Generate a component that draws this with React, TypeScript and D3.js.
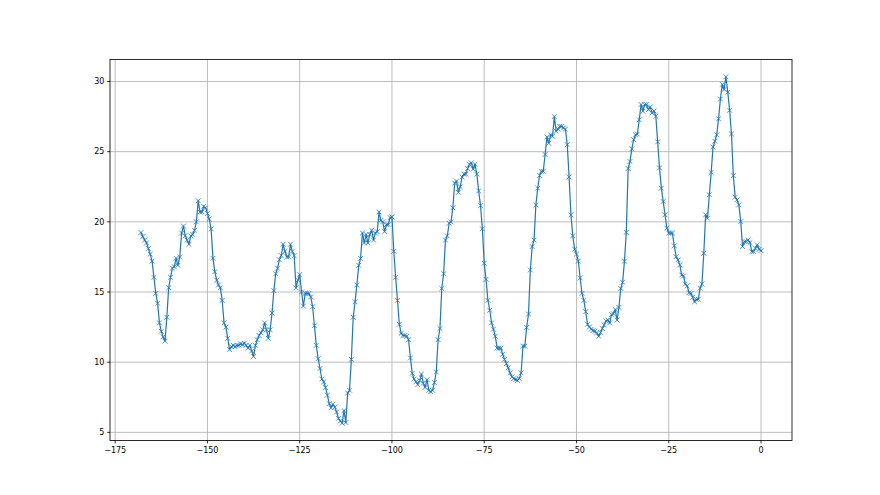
import React from "react";
import * as d3 from "d3";

// Hours relative to now (every half hour) and the measured values
const startHour = -168;
const stepHour = 0.5;

const values: number[] = [
  19.24, 18.95, 18.7, 18.5, 18.1, 17.7, 17.2, 16.05, 14.9, 14.2,
  12.8, 12.2, 11.8, 11.5, 13.2, 15.3, 16.05, 16.7, 16.8, 17.4,
  16.9, 17.5, 19.2, 19.7, 19.0, 18.7, 18.4, 19.0, 19.1, 19.4,
  20.0, 21.5, 20.7, 20.7, 21.1, 21.0, 20.6, 20.2, 19.5, 17.4,
  16.45, 15.85, 15.5, 15.3, 14.4, 12.8, 12.5, 11.7, 10.9, 11.1,
  11.2, 11.1, 11.2, 11.2, 11.3, 11.25, 11.35, 11.2, 11.0, 11.2,
  10.8, 10.4, 11.2, 11.6, 11.9, 12.1, 12.3, 12.8, 12.3, 11.7,
  12.3, 13.5, 15.1, 16.3, 16.7, 17.3, 17.6, 18.4, 17.9, 17.5,
  17.5, 18.4, 17.9, 17.6, 15.3, 15.85, 16.25, 15.0, 14.0, 14.9,
  14.9, 14.9, 14.65, 13.95, 12.6, 11.2, 10.25, 9.55, 8.8, 8.6,
  8.2, 7.65, 7.05, 6.75, 7.0, 6.8, 6.45, 6.0, 5.8, 5.65,
  6.55, 5.7, 7.8, 8.0, 10.2, 13.2, 14.3, 15.5, 16.9, 17.4,
  19.2, 18.5, 19.1, 18.5, 19.1, 19.4, 18.7, 19.2, 19.3, 20.7,
  20.1, 20.0, 19.3, 19.8, 19.8, 20.3, 20.35, 17.9, 16.05, 14.4,
  12.7, 12.05, 11.9, 11.9, 11.85, 11.6, 10.3, 9.2, 8.8, 8.6,
  8.4, 8.7, 9.15, 8.5, 8.2, 8.75, 8.0, 7.9, 8.0, 8.55,
  9.3, 11.6, 12.4, 15.25, 16.3, 18.7, 19.0, 19.9, 20.0, 21.0,
  22.76, 22.9, 22.1, 22.5, 23.2, 23.4, 23.4, 23.8, 24.1, 24.2,
  23.75, 24.1, 23.4, 22.2, 21.15, 19.5, 17.05, 15.9, 14.4, 13.7,
  12.8, 12.35, 11.85, 11.0, 11.0, 11.0, 10.57, 10.2, 9.9, 9.6,
  9.24, 8.95, 8.83, 8.76, 8.7, 8.83, 9.24, 11.14, 11.14, 12.48,
  13.43, 16.57, 18.24, 18.7, 21.2, 22.4, 23.3, 23.6, 23.6, 24.8,
  26.05, 25.6, 26.2, 26.1, 27.5, 26.45, 26.6, 26.8, 26.8, 26.7,
  26.6, 25.5, 23.2, 20.5, 19.0, 18.05, 17.7, 17.2, 16.0, 14.9,
  14.4, 13.6, 12.7, 12.5, 12.35, 12.25, 12.2, 12.1, 11.85, 12.1,
  12.4, 12.65, 12.95, 13.0, 12.8, 13.4, 13.45, 13.75, 13.0, 13.9,
  15.25, 15.7, 17.2, 19.25, 23.8, 24.3, 25.2, 25.85, 26.2, 26.25,
  27.27, 28.36, 27.88, 28.36, 28.36, 28.0, 28.19, 27.76, 27.9, 27.52,
  25.7, 23.84, 22.4, 21.45, 20.5, 19.55, 19.2, 19.2, 19.2, 18.29,
  17.52, 17.29, 16.93, 16.21, 16.14, 15.57, 15.43, 14.95, 14.9, 14.62,
  14.3, 14.48, 14.48, 15.26, 15.57, 17.76, 20.5, 20.26, 21.93, 23.52,
  25.34, 25.74, 26.2, 27.34, 28.75, 29.79, 29.43, 30.34, 29.24, 27.95,
  26.26, 23.29, 21.76, 21.57, 21.21, 20.02, 18.24, 18.59, 18.59, 18.71,
  18.52, 17.88, 17.88, 18.12, 18.36, 18.05, 17.95,
];

const hours: number[] = values.map((_, i) => startHour + i * stepHour);

const xTicks: number[] = [-175, -150, -125, -100, -75, -50, -25, 0];
const yTicks: number[] = [5, 10, 15, 20, 25, 30];

const W = 880;
const H = 495;
const left = 110;
const right = 792;
const top = 59.4;
const bottom = 440.55;
const color = "#1f77b4";
const font = "'DejaVu Sans', sans-serif";
const s = 0.8; // rendering scale relative to points

function fmt(v: number): string {
  return v < 0 ? "\u2212" + Math.abs(v) : String(v);
}

export default function App() {
  const data = hours.map((h, i) => ({ x: h, y: values[i] }));
  const [x0, x1] = d3.extent(hours) as [number, number];
  const [y0, y1] = d3.extent(values) as [number, number];
  const mx = (x1 - x0) * 0.05;
  const my = (y1 - y0) * 0.05;
  const x = d3.scaleLinear().domain([x0 - mx, x1 + mx]).range([left, right]);
  const y = d3.scaleLinear().domain([y0 - my, y1 + my]).range([bottom, top]);

  const line = d3
    .line<{ x: number; y: number }>()
    .x((d) => x(d.x))
    .y((d) => y(d.y));

  const ms = 3 * s;
  const tickLen = 3.5 * s;
  const pad = 3.5 * s;
  const fs = 10 * s;

  return (
    <svg
      width={W}
      height={H}
      style={{ position: "absolute", left: 0, top: 0, background: "#fff" }}
    >
      <rect x={0} y={0} width={W} height={H} fill="#fff" />
      {/* grid */}
      <g stroke="#b0b0b0" strokeWidth={0.8 * s + 0.2}>
        {xTicks.map((t) => (
          <line key={"gx" + t} x1={x(t)} x2={x(t)} y1={top} y2={bottom} />
        ))}
        {yTicks.map((t) => (
          <line key={"gy" + t} x1={left} x2={right} y1={y(t)} y2={y(t)} />
        ))}
      </g>
      {/* series */}
      <path d={line(data) || ""} fill="none" stroke={color} strokeWidth={1.5 * s} strokeLinejoin="round" strokeLinecap="square" />
      <g stroke={color} strokeWidth={1 * s}>
        {data.map((d, i) => {
          const cx = x(d.x);
          const cy = y(d.y);
          return (
            <path
              key={i}
              d={`M${cx - ms},${cy - ms}L${cx + ms},${cy + ms}M${cx - ms},${cy + ms}L${cx + ms},${cy - ms}`}
            />
          );
        })}
      </g>
      {/* spines */}
      <rect x={left} y={top} width={right - left} height={bottom - top} fill="none" stroke="#000" strokeWidth={0.8 * s + 0.2} />
      {/* x ticks */}
      <g>
        {xTicks.map((t) => (
          <g key={"xt" + t}>
            <line x1={x(t)} x2={x(t)} y1={bottom} y2={bottom + tickLen} stroke="#000" strokeWidth={0.8 * s + 0.2} />
            <text x={x(t)} y={bottom + tickLen + pad} dy="0.8em" textAnchor="middle" fontFamily={font} fontSize={fs} fill="#000">
              {fmt(t)}
            </text>
          </g>
        ))}
      </g>
      {/* y ticks */}
      <g>
        {yTicks.map((t) => (
          <g key={"yt" + t}>
            <line x1={left - tickLen} x2={left} y1={y(t)} y2={y(t)} stroke="#000" strokeWidth={0.8 * s + 0.2} />
            <text x={left - tickLen - pad} y={y(t)} dy="0.35em" textAnchor="end" fontFamily={font} fontSize={fs} fill="#000">
              {fmt(t)}
            </text>
          </g>
        ))}
      </g>
    </svg>
  );
}
